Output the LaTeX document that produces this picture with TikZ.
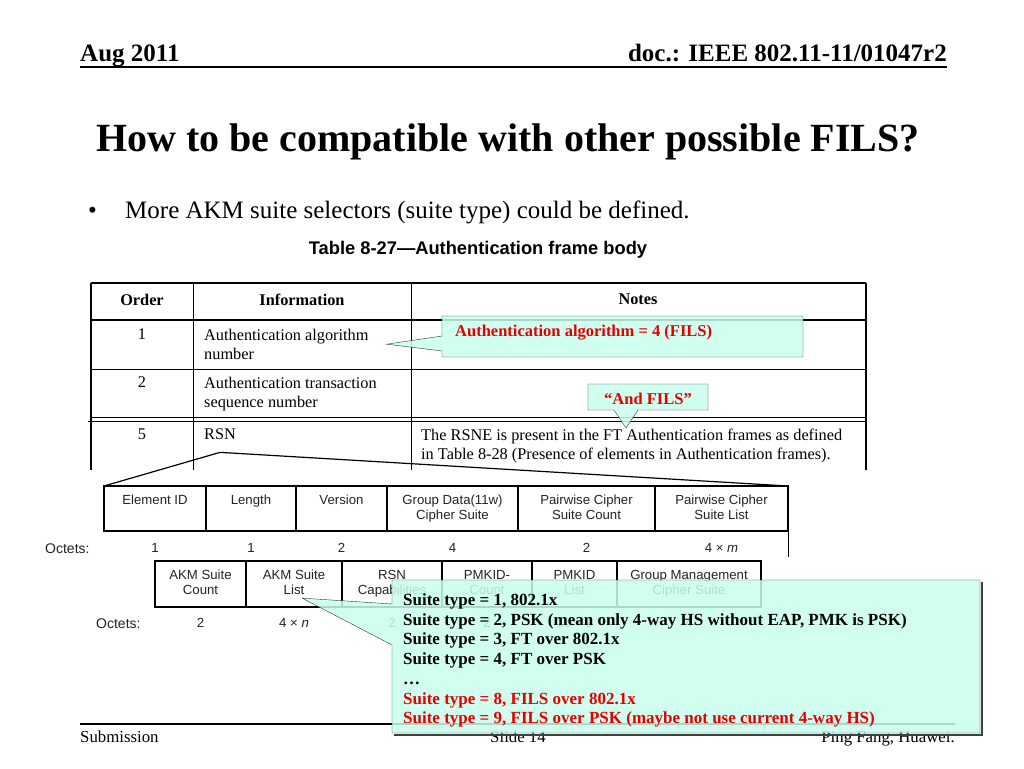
\documentclass[tikz,border=0pt]{standalone}
\usepackage{fontspec}
\setmainfont{Liberation Serif}
\setsansfont{Liberation Sans}
\usepackage{tikz}
\usetikzlibrary{positioning}
\definecolor{callcyan}{RGB}{200,255,236}
\definecolor{filsred}{RGB}{228,0,0}
\definecolor{cellink}{RGB}{35,35,35}

\begin{document}
\begin{tikzpicture}[x=1pt, y=-1pt,
			txt/.style={inner sep=0pt, anchor=base west},
			headText/.style={txt, font=\fontsize{25}{29}\selectfont\bfseries},
			serifText/.style={inner sep=0pt, anchor=north west, align=left, font=\fontsize{16.3}{18.5}\selectfont},
			orderText/.style={serifText, anchor=north, align=center},
			fieldBox/.style={draw, line width=1.6pt, outer sep=0pt, inner sep=0pt, anchor=north west},
			fieldText/.style={inner sep=0pt, align=center, text=cellink, font=\sffamily\fontsize{13.2}{15}\selectfont},
			octText/.style={fieldText, text height=9.5pt},
			callout/.style={draw=black!80, thin, fill=callcyan, fill opacity=0.85, text opacity=1},
			calloutText/.style={txt, text=filsred, font=\fontsize{16.5}{19}\selectfont\bfseries},
			thinRule/.style={line width=0.8pt},
			thickRule/.style={line width=2.6pt},
			zoomLine/.style={line width=1.2pt},
			]
			\useasboundingbox (0,0) rectangle (1024,768);
			
			% header
			\draw node[headText] (date) at (80,61) {Aug 2011};
			\draw node[headText, anchor=base east] (docId) at (947,61) {doc.: IEEE 802.11-11/01047r2};
			\draw [line width=2pt] (80,67) -- (947,67);
			\draw node[txt, anchor=base, font=\fontsize{40}{48}\selectfont\bfseries] (title) at (508,151) {How to be compatible with other possible FILS?};
			\draw node[txt, font=\fontsize{25}{29}\selectfont] (bullet) at (88,218) {•};
			\draw node[txt, font=\fontsize{25}{29}\selectfont] (point) at (125,218) {More AKM suite selectors (suite type) could be defined.};
			\draw node[txt, anchor=base, font=\sffamily\fontsize{18.3}{22}\selectfont\bfseries] (caption) at (478,254) {Table 8-27—Authentication frame body};
			
			% table 8-27
			\draw [thickRule] (91,283) -- (866,283);
			\draw [thickRule] (91,320) -- (866,320);
			\draw [thinRule] (91,369) -- (866,369);
			\draw [thinRule] (91,417) -- (866,417);
			\draw [thinRule] (88,421) -- (866,421);
			\draw [thinRule] (193,283) -- (193,470);
			\draw [thinRule] (411,283) -- (411,470);
			\draw [thickRule] (91,283) -- (91,470);
			\draw [thickRule] (866,283) -- (866,470);
			
			\draw node[orderText, font=\fontsize{16.3}{18.5}\selectfont\bfseries] (orderHead) at (142,294) {Order};
			\draw node[orderText, font=\fontsize{16.3}{18.5}\selectfont\bfseries] (infoHead) at (302,294) {Information};
			\draw node[orderText, font=\fontsize{16.3}{18.5}\selectfont\bfseries] (notesHead) at (638,294) {Notes};
			\draw node[orderText] (order1) at (142,329) {1};
			\draw node[serifText] (info1) at (204,329) {Authentication algorithm\\number};
			\draw node[orderText] (order2) at (142,377) {2};
			\draw node[serifText] (info2) at (204,377) {Authentication transaction\\sequence number};
			\draw node[orderText] (order5) at (142,429) {5};
			\draw node[serifText] (rsn) at (204,429) {RSN};
			\draw node[serifText] (notes5) at (421,429) {The RSNE is present in the FT Authentication frames as defined\\in Table 8-28 (Presence of elements in Authentication frames).};
			
			% RSN element, first row
			\foreach \xl/\xr/\txt/\oct [count=\i] in {104/206/{Element ID}/1, 206/296/{Length}/1, 296/387/{Version}/2, 387/518/{Group Data(11w)\\Cipher Suite}/4, 518/655/{Pairwise Cipher\\Suite Count}/2, 655/788/{Pairwise Cipher\\Suite List}/{4 × \textit{m}}}
			{
				\draw node[fieldBox, minimum width=\xr-\xl, minimum height=45] (f\i) at (\xl,486) {};
				\draw node[fieldText, below=9pt of f\i.north] (ft\i) {\txt};
				\draw node[octText, below=11.5pt of f\i.south] (fo\i) {\oct};
			}
			\draw node[txt, text=cellink, font=\sffamily\fontsize{14}{16}\selectfont] (octets1) at (45,553) {Octets:};
			\draw [thinRule] (f6.south east) -- ++(0,26);
			
			% RSN element, second row
			\foreach \xl/\xr/\txt/\oct [count=\i] in {155/246/{AKM Suite\\Count}/2, 246/342/{AKM Suite\\List}/{4 × \textit{n}}, 342/442/{RSN\\Capabilities}/2, 442/532/{PMKID-\\Count}/2, 532/617/{PMKID\\List}/{16 × \textit{s}}, 617/761/{Group Management\\Cipher Suite}/4}
			{
				\draw node[fieldBox, minimum width=\xr-\xl, minimum height=46] (g\i) at (\xl,561) {};
				\draw node[fieldText, below=9pt of g\i.north] (gt\i) {\txt};
				\draw node[octText, below=10.5pt of g\i.south] (go\i) {\oct};
			}
			\draw node[txt, text=cellink, font=\sffamily\fontsize{14}{16}\selectfont] (octets2) at (96,628) {Octets:};
			
			% zoom from RSN
			\coordinate (rsnTip) at ([yshift=-12pt]rsn.south);
			\draw [zoomLine] (f1.north west) -- (rsnTip) -- (f6.north east);
			
			% footer
			\draw [line width=1.6pt] (80,724) -- (955,724);
			\draw node[txt, font=\fontsize{16.8}{19}\selectfont] (submission) at (80,742) {Submission};
			\draw node[txt, anchor=base, font=\fontsize{16.8}{19}\selectfont] (slide) at (518,742) {Slide 14};
			\draw node[txt, anchor=base east, font=\fontsize{16.8}{19}\selectfont] (author) at (955,742) {Ping Fang, Huawei.};
			
			% callouts
			\coordinate (algTip) at ([xshift=18pt]info1.east);
			\draw [callout] (442,316) -- (803,316) -- (803,357) -- (442,357) -- (442,351) -- (algTip) -- (442,336) -- cycle;
			\draw node[calloutText] (algNote) at (455,336) {Authentication algorithm = 4 (FILS)};
			
			\coordinate (filsTip) at (626,428);
			\draw [callout] (588,384) -- (708,384) -- (708,410) -- (638,410) -- (filsTip) -- (614,410) -- (588,410) -- cycle;
			\draw node[calloutText, anchor=base] (andFils) at (648,404) {“And FILS”};
			
			\coordinate (akmTip) at ([xshift=8pt, yshift=-3pt]gt2.south);
			\draw [line width=2pt, black!75] (394,735) -- (982,735) -- (982,582);
			\draw [callout] (392,580) -- (980,580) -- (980,733) -- (392,733) -- (392,645) -- (akmTip) -- (392,604) -- cycle;
			\draw node[serifText, font=\fontsize{17}{19.7}\selectfont\bfseries] (suiteList) at (403,593.5) {Suite type = 1, 802.1x\\
				Suite type = 2, PSK (mean only 4-way HS without EAP, PMK is PSK)\\
				Suite type = 3, FT over 802.1x\\
				Suite type = 4, FT over PSK\\
				…\\
				\textcolor{filsred}{Suite type = 8, FILS over 802.1x}\\
				\textcolor{filsred}{Suite type = 9, FILS over PSK (maybe not use current 4-way HS)}};
			
		\end{tikzpicture}
\end{document}
